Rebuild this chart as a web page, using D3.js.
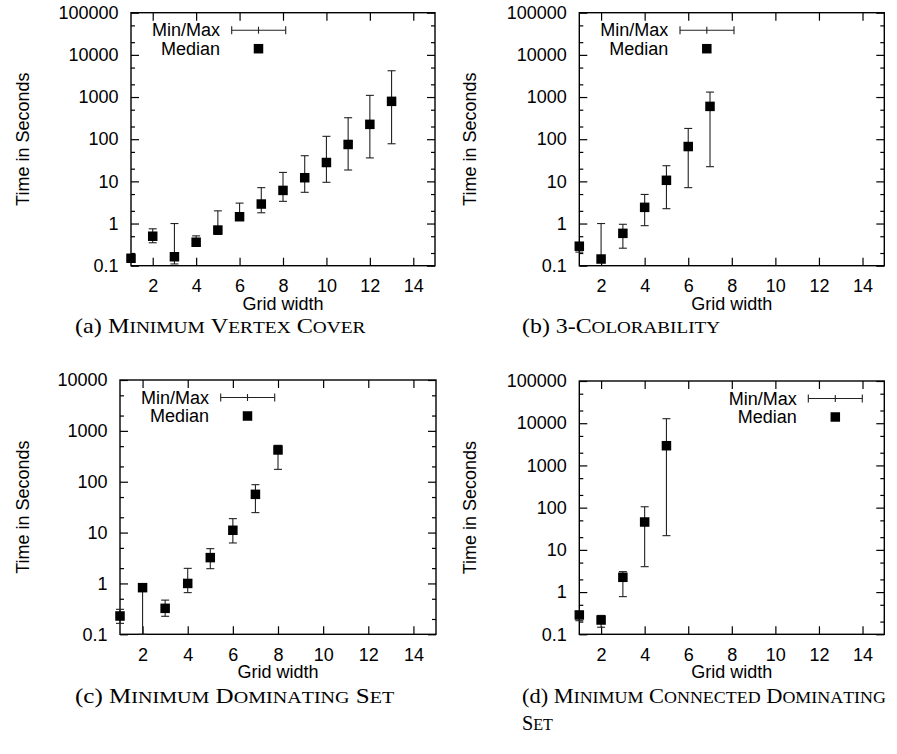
<!DOCTYPE html>
<html>
<head>
<meta charset="utf-8">
<script src="https://cdn.jsdelivr.net/npm/d3@7"></script>
<style>
body { margin: 0; background: #fff; }
svg { display: block; }
.lbl { font-family: "Liberation Sans", Arial, Helvetica, sans-serif; font-size: 18px; fill: #000; }
.caption { font-family: "Liberation Serif", "Times New Roman", serif; font-size: 21px; fill: #000; }
</style>
</head>
<body>
<svg id="chart" width="897" height="754"></svg>
<script>
// Panel (a) Minimum Vertex Cover
const gridA = [1, 2, 3, 4, 5, 6, 7, 8, 9, 10, 11, 12, 13];
const medA  = [0.15, 0.5, 0.163, 0.36, 0.7, 1.45, 2.9, 6.1, 12.2, 28, 75, 225, 790];
const minA  = [0.12, 0.35, 0.11, 0.31, 0.55, 1.21, 1.8, 3.36, 5.5, 9.5, 18.6, 36, 78];
const maxA  = [0.17, 0.75, 1.0, 0.51, 2.0, 3.05, 7.1, 16.3, 40.6, 117, 323, 1096, 4200];

// Panel (b) 3-Colorability
const gridB = [1, 2, 3, 4, 5, 6, 7];
const medB  = [0.29, 0.144, 0.585, 2.42, 10.6, 67, 600];
const minB  = [0.21, 0.12, 0.26, 0.89, 2.25, 7.1, 22.3];
const maxB  = [0.33, 1.0, 0.96, 4.9, 23.5, 180, 1310];

// Panel (c) Minimum Dominating Set
const gridC = [1, 2, 3, 4, 5, 6, 7, 8];
const medC  = [0.229, 0.826, 0.324, 1.0, 3.22, 11.1, 56.5, 421];
const minC  = [0.164, 0.1, 0.226, 0.66, 1.95, 6.25, 24.7, 175];
const maxC  = [0.31, 0.85, 0.47, 1.98, 4.83, 18.8, 87.5, 520];

// Panel (d) Minimum Connected Dominating Set
const gridD = [1, 2, 3, 4, 5];
const medD  = [0.287, 0.218, 2.24, 45.7, 2930];
const minD  = [0.21, 0.147, 0.78, 4.0, 21.7];
const maxD  = [0.33, 0.28, 3.05, 105, 12800];

const xTicks = [2, 4, 6, 8, 10, 12, 14];
const yLabel = "Time in Seconds";
const xLabel = "Grid width";
const legendLabels = ["Min/Max", "Median"];

const panels = [
  { x: gridA, med: medA, lo: minA, hi: maxA, yMax: 1e5,
    box: [131, 12.7, 435, 265.7], yLabelX: 23, legend: "left",
    caption: ["(a) Minimum Vertex Cover"], capW: [289], capX: 75, capY: 333 },
  { x: gridB, med: medB, lo: minB, hi: maxB, yMax: 1e5,
    box: [579.3, 12.7, 884.3, 265.7], yLabelX: 470, legend: "left",
    caption: ["(b) 3-Colorability"], capW: [198], capX: 522, capY: 333 },
  { x: gridC, med: medC, lo: minC, hi: maxC, yMax: 1e4,
    box: [120, 380, 436, 634.3], yLabelX: 23, legend: "left",
    caption: ["(c) Minimum Dominating Set"], capW: [317], capX: 75, capY: 703 },
  { x: gridD, med: medD, lo: minD, hi: maxD, yMax: 1e5,
    box: [579.3, 381, 884.3, 634.3], yLabelX: 470, legend: "right",
    caption: ["(d) Minimum Connected Dominating", "Set"], capW: [362, 31], capX: 522, capY: 703 }
];

const svg = d3.select("#chart");
const SQ = 9.5;

function decadeTicks(yMax) {
  const major = [], minor = [];
  for (let v = 0.1; v <= yMax * 1.0001; v *= 10) {
    major.push(+v.toPrecision(3));
    if (v * 2 < yMax) minor.push(+(v * 2).toPrecision(3));
    if (v * 5 < yMax) minor.push(+(v * 5).toPrecision(3));
  }
  return { major, minor };
}

// LaTeX-like small caps: capitals full size, lower case as smaller capitals
function smallCaps(textSel, str) {
  const m = str.match(/^(\(\w\) )?(.*)$/);
  if (m[1]) textSel.append("tspan").text(m[1]);
  for (const ch of m[2]) {
    const lower = ch !== ch.toUpperCase();
    textSel.append("tspan")
      .attr("font-size", lower ? "0.8em" : null)
      .text(ch.toUpperCase());
  }
}

function drawPanel(p) {
  const [l, t, r, b] = p.box;
  const x = d3.scaleLinear().domain([1, 15]).range([l, r]);
  const y = d3.scaleLog().domain([0.1, p.yMax]).range([b, t]);
  const g = svg.append("g");
  const ticks = decadeTicks(p.yMax);

  // y axes (inward ticks, mirrored)
  g.append("g").attr("transform", `translate(${l},0)`)
    .call(d3.axisLeft(y).tickValues(ticks.major).tickFormat(d3.format("")).tickSize(-8).tickPadding(12.5));
  g.append("g").attr("transform", `translate(${l},0)`)
    .call(d3.axisLeft(y).tickValues(ticks.minor).tickFormat("").tickSize(-4));
  g.append("g").attr("transform", `translate(${r},0)`)
    .call(d3.axisRight(y).tickValues(ticks.major).tickFormat("").tickSize(-8));
  g.append("g").attr("transform", `translate(${r},0)`)
    .call(d3.axisRight(y).tickValues(ticks.minor).tickFormat("").tickSize(-4));

  // x axes
  g.append("g").attr("transform", `translate(0,${b})`)
    .call(d3.axisBottom(x).tickValues(xTicks).tickFormat(d3.format("d")).tickSize(-8).tickPadding(13.5));
  g.append("g").attr("transform", `translate(0,${t})`)
    .call(d3.axisTop(x).tickValues(xTicks).tickFormat("").tickSize(-8));

  g.selectAll(".domain").remove();
  g.selectAll(".tick line").attr("stroke", "#000").attr("stroke-width", 1.2);
  g.selectAll(".tick text").attr("class", "lbl").attr("font-size", null).attr("font-family", null).attr("fill", null);

  // frame
  g.append("rect").attr("x", l).attr("y", t).attr("width", r - l).attr("height", b - t)
    .attr("fill", "none").attr("stroke", "#000").attr("stroke-width", 1.4);

  // axis titles
  g.append("text").attr("class", "lbl").attr("text-anchor", "middle")
    .attr("transform", `translate(${p.yLabelX},${(t + b) / 2}) rotate(-90)`)
    .attr("dominant-baseline", "central").text(yLabel);
  g.append("text").attr("class", "lbl").attr("text-anchor", "middle")
    .attr("x", (l + r) / 2).attr("y", b + 38).attr("dominant-baseline", "central").text(xLabel);

  // data
  const rows = p.x.map((v, i) => ({ x: v, med: p.med[i], lo: p.lo[i], hi: p.hi[i] }));
  const eb = g.append("g").attr("stroke", "#222").attr("stroke-width", 1.1);
  eb.selectAll(".v").data(rows).enter().append("line")
    .attr("x1", d => x(d.x)).attr("x2", d => x(d.x))
    .attr("y1", d => y(d.lo)).attr("y2", d => y(d.hi));
  eb.selectAll(".lo").data(rows).enter().append("line")
    .attr("x1", d => x(d.x) - 4).attr("x2", d => x(d.x) + 4)
    .attr("y1", d => y(d.lo)).attr("y2", d => y(d.lo));
  eb.selectAll(".hi").data(rows).enter().append("line")
    .attr("x1", d => x(d.x) - 4).attr("x2", d => x(d.x) + 4)
    .attr("y1", d => y(d.hi)).attr("y2", d => y(d.hi));
  g.append("g").selectAll("rect").data(rows).enter().append("rect")
    .attr("x", d => x(d.x) - SQ / 2).attr("y", d => y(d.med) - SQ / 2)
    .attr("width", SQ).attr("height", SQ).attr("fill", "#000");

  // legend
  let textEnd, barStart, barEnd, sqX;
  if (p.legend === "left") {
    textEnd = l + 89; barStart = l + 100.7; barEnd = l + 154.7; sqX = l + 127.5;
  } else {
    barEnd = r - 22; barStart = r - 76; sqX = r - 49; textEnd = r - 87.6;
  }
  const row1 = t + 17.5, row2 = t + 36;
  const lg = g.append("g");
  lg.append("text").attr("class", "lbl").attr("text-anchor", "end").attr("x", textEnd).attr("y", row1)
    .attr("dominant-baseline", "central").text(legendLabels[0]);
  lg.append("text").attr("class", "lbl").attr("text-anchor", "end").attr("x", textEnd).attr("y", row2)
    .attr("dominant-baseline", "central").text(legendLabels[1]);
  const bar = lg.append("g").attr("stroke", "#222").attr("stroke-width", 1.1);
  bar.append("line").attr("x1", barStart).attr("x2", barEnd).attr("y1", row1).attr("y2", row1);
  bar.append("line").attr("x1", barStart).attr("x2", barStart).attr("y1", row1 - 4).attr("y2", row1 + 4);
  bar.append("line").attr("x1", barEnd).attr("x2", barEnd).attr("y1", row1 - 4).attr("y2", row1 + 4);
  bar.append("line").attr("x1", sqX).attr("x2", sqX).attr("y1", row1 - 3.5).attr("y2", row1 + 3.5);
  lg.append("rect").attr("x", sqX - SQ / 2).attr("y", row2 - SQ / 2).attr("width", SQ).attr("height", SQ).attr("fill", "#000");

  // caption (stretched to the width used in the original typesetting)
  p.caption.forEach((line, i) => {
    const cg = svg.append("g");
    const txt = cg.append("text").attr("class", "caption");
    smallCaps(txt, line);
    const natural = txt.node().getComputedTextLength();
    const sx = p.capW[i] / natural;
    cg.attr("transform", `translate(${p.capX},${p.capY + i * 27}) scale(${sx},1)`);
  });
}

panels.forEach(drawPanel);
</script>
</body>
</html>
